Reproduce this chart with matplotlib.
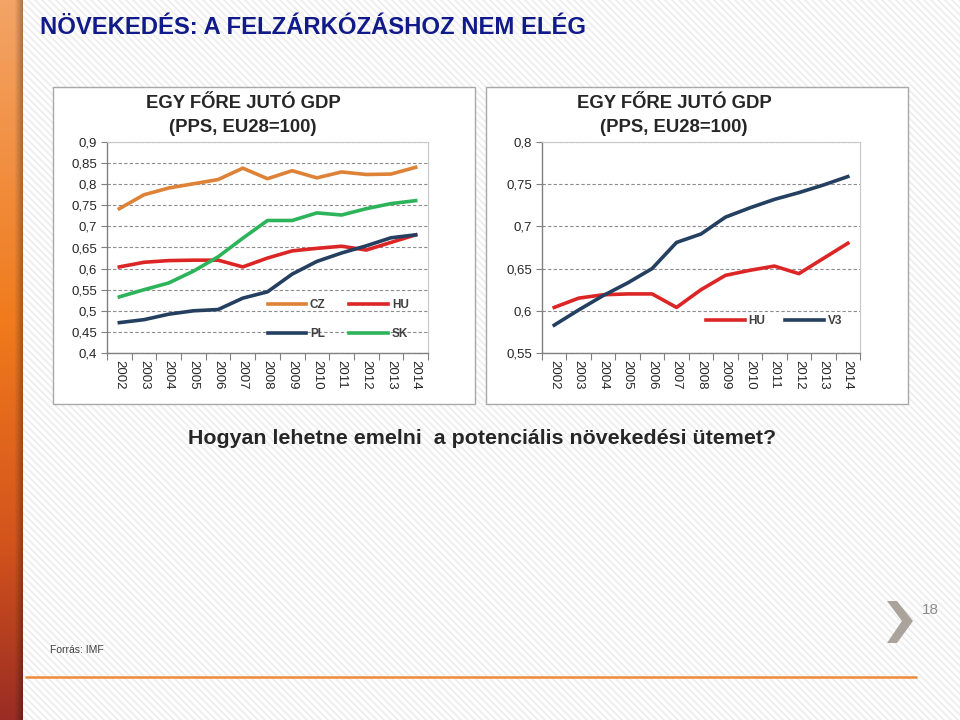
import numpy as np
import matplotlib
matplotlib.use('Agg')
import matplotlib.pyplot as plt
from matplotlib.patches import Rectangle, Polygon
from matplotlib.colors import LinearSegmentedColormap
from matplotlib.ticker import FuncFormatter

plt.rcParams['font.family'] = ['Liberation Sans', 'DejaVu Sans']

# data (GDP per capita, PPS, EU28 = 1)
years = ['2002', '2003', '2004', '2005', '2006', '2007', '2008',
         '2009', '2010', '2011', '2012', '2013', '2014']
cz = [0.742, 0.775, 0.791, 0.801, 0.811, 0.838, 0.813, 0.832, 0.815, 0.829, 0.823, 0.824, 0.840]
hu = [0.604, 0.615, 0.619, 0.620, 0.620, 0.604, 0.625, 0.642, 0.648, 0.653, 0.644, 0.662, 0.680]
pl = [0.472, 0.479, 0.492, 0.500, 0.503, 0.530, 0.545, 0.587, 0.617, 0.637, 0.654, 0.673, 0.680]
sk = [0.533, 0.550, 0.566, 0.594, 0.628, 0.672, 0.714, 0.714, 0.732, 0.727, 0.742, 0.754, 0.761]
v3 = [0.583, 0.601, 0.618, 0.633, 0.650, 0.681, 0.691, 0.711, 0.722, 0.732, 0.740, 0.749, 0.759]

left_ticks = [0.4, 0.45, 0.5, 0.55, 0.6, 0.65, 0.7, 0.75, 0.8, 0.85, 0.9]
right_ticks = [0.55, 0.6, 0.65, 0.7, 0.75, 0.8]

C_CZ = '#dd8236'
C_HU = '#dc2626'
C_PL = '#243f60'
C_SK = '#2db45a'

W, H = 960, 720
fig = plt.figure(figsize=(9.6, 7.2), dpi=100)

# slide background in pixel coordinates
bg = fig.add_axes([0, 0, 1, 1])
bg.set_xlim(0, W)
bg.set_ylim(H, 0)
bg.axis('off')

yy, xx = np.mgrid[0:H, 0:W]
v = 0.5 + 0.5 * np.cos(2 * np.pi * (xx - yy) / 7.0)
shade = 1 - 0.075 * v ** 3
bg.imshow(np.dstack([shade] * 3), extent=(0, W, H, 0), interpolation='nearest',
          aspect='auto', zorder=0)

# orange side bar
bar_cmap = LinearSegmentedColormap.from_list(
    'bar', [(0, '#f3a466'), (0.45, '#f07a1c'), (0.75, '#d4541c'), (1, '#9a2c24')])
by, bx = np.mgrid[0:H, 0:23]
bar = bar_cmap(by / H)[:, :, :3]
dark = 1 - 0.28 * np.clip((bx - 14) / 8.0, 0, 1)
bar = bar * dark[:, :, None]
bg.imshow(bar, extent=(0, 23, H, 0), interpolation='bilinear', aspect='auto', zorder=1)

bg.text(40, 28, 'NÖVEKEDÉS: A FELZÁRKÓZÁSHOZ NEM ELÉG', fontsize=17.2, weight='bold',
        color='#101a8a', va='center', ha='left')

# chart panels
for x0 in (53, 486):
    bg.add_patch(Rectangle((x0, 87), 422, 317, fc='white', ec='#a8a8a8', lw=1, zorder=2))

for cx in (243, 674):
    bg.text(cx, 104, 'EGY FŐRE JUTÓ GDP', fontsize=13.3, weight='bold', color='#262626',
            ha='center', va='center', zorder=3)
    bg.text(cx, 127, '(PPS, EU28=100)', fontsize=13.3, weight='bold', color='#262626',
            ha='center', va='center', zorder=3)

bg.text(482, 438, 'Hogyan lehetne emelni  a potenciális növekedési ütemet?', fontsize=15.4,
        weight='bold', color='#262626', ha='center', va='center')
bg.text(50, 650, 'Forrás: IMF', fontsize=7.5, color='#404040', va='center')
bg.text(922, 610, '18', fontsize=11, color='#8c8c8c', va='center')
bg.add_patch(Polygon([(887, 601), (897, 601), (913, 621), (897, 643), (887, 643), (902, 621)],
                     closed=True, fc='#a9a39c', ec='none'))
bg.plot([25, 917], [677, 677], color='#ee8a3a', lw=1.8, solid_capstyle='butt')


def px_rect(x0, y0, x1, y1):
    return [x0 / W, 1 - y1 / H, (x1 - x0) / W, (y1 - y0) / H]


comma = FuncFormatter(lambda val, _: f'{val:g}'.replace('.', ','))


def setup(ax, ticks):
    ax.set_xlim(-0.5, len(years) - 0.5)
    ax.set_ylim(ticks[0], ticks[-1])
    ax.set_yticks(ticks)
    ax.yaxis.set_major_formatter(comma)
    ax.set_xticks(np.arange(-0.5, len(years), 1))
    ax.set_xticklabels([])
    ax.set_xticks(np.arange(len(years)), minor=True)
    ax.set_xticklabels(years, minor=True, rotation=270, fontsize=9.5, color='#262626')
    ax.tick_params(axis='x', which='minor', length=0, pad=5)
    ax.tick_params(axis='x', which='major', length=5, width=0.8, color='#808080')
    ax.tick_params(axis='y', length=4, width=0.8, color='#808080', labelsize=9.5,
                   labelcolor='#262626', pad=3)
    ax.yaxis.grid(True, linestyle=(0, (3, 2)), color='#8c8c8c', lw=0.8)
    ax.set_axisbelow(True)
    for s in ('left', 'bottom'):
        ax.spines[s].set_color('#808080')
        ax.spines[s].set_linewidth(1)
    for s in ('top', 'right'):
        ax.spines[s].set_color('#c8c8c8')
        ax.spines[s].set_linewidth(0.8)


x = np.arange(len(years))

ax1 = fig.add_axes(px_rect(107, 142, 428, 353))
setup(ax1, left_ticks)
l_cz, = ax1.plot(x, cz, color=C_CZ, lw=2.6, label='CZ')
l_hu, = ax1.plot(x, hu, color=C_HU, lw=2.6, label='HU')
l_pl, = ax1.plot(x, pl, color=C_PL, lw=2.6, label='PL')
l_sk, = ax1.plot(x, sk, color=C_SK, lw=2.6, label='SK')
leg1 = ax1.legend([l_cz, l_pl, l_hu, l_sk], ['CZ', 'PL', 'HU', 'SK'], ncol=2,
                  loc='upper left', bbox_to_anchor=(0.5, 0.255), frameon=False,
                  fontsize=8.5, handlelength=3.3, handletextpad=0.3, columnspacing=2.0,
                  labelspacing=1.45, borderpad=0, borderaxespad=0)
for t in leg1.get_texts():
    t.set_color('#404040')
    t.set_weight('bold')

ax2 = fig.add_axes(px_rect(542, 142, 860, 353))
setup(ax2, right_ticks)
r_hu, = ax2.plot(x, hu, color=C_HU, lw=2.6, label='HU')
r_v3, = ax2.plot(x, v3, color=C_PL, lw=2.6, label='V3')
leg2 = ax2.legend([r_hu, r_v3], ['HU', 'V3'], ncol=2, loc='center left',
                  bbox_to_anchor=(0.515, 0.152), frameon=False, fontsize=8.5,
                  handlelength=3.3, handletextpad=0.3, columnspacing=1.7,
                  borderpad=0, borderaxespad=0)
for t in leg2.get_texts():
    t.set_color('#404040')
    t.set_weight('bold')

fig.savefig('out.png', dpi=100)
